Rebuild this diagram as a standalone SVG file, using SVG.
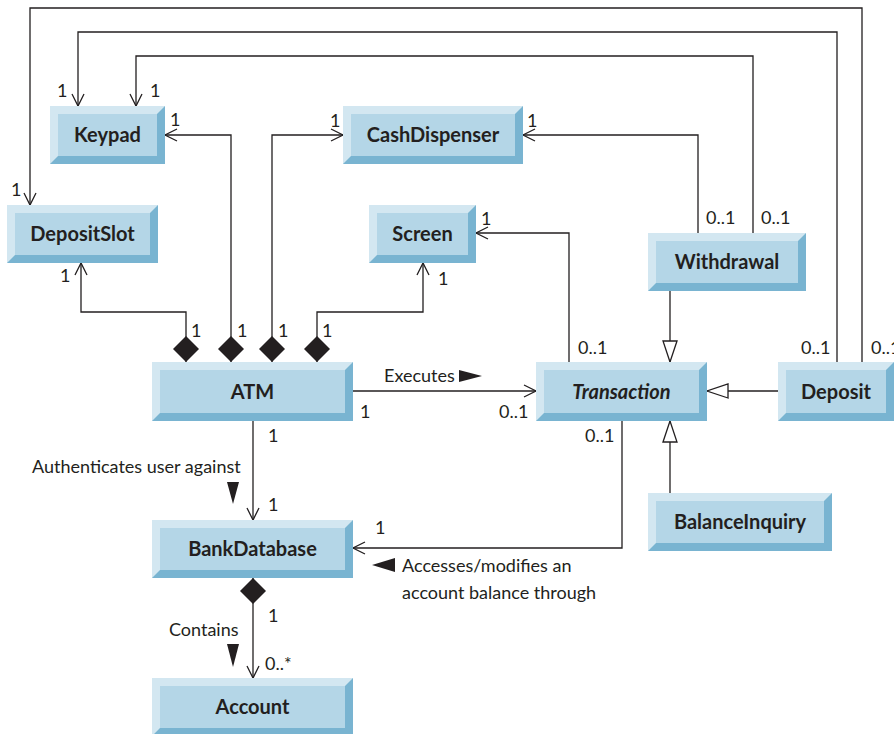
<svg xmlns="http://www.w3.org/2000/svg" width="894" height="734" viewBox="0 0 894 734">
<style>
.bd{fill:#79b4d1}
.lt{fill:#d3e7f1}
.fc{fill:#b4d6e7}
.n{font-family:Lato,"Open Sans","Liberation Sans",sans-serif;font-weight:bold;font-size:20px;fill:#231f20;text-anchor:middle}
.m{font-family:Lato,"Open Sans","Liberation Sans",sans-serif;font-size:18px;fill:#231f20}
.c{fill:none;stroke:#231f20;stroke-width:1.3}
.tri{fill:#231f20}
</style>
<defs>
<marker id="open" markerWidth="15" markerHeight="15" refX="13" refY="7" orient="auto" markerUnits="userSpaceOnUse"><path d="M1,1 L13,7 L1,13" fill="none" stroke="#231f20" stroke-width="1.3"/></marker>
<marker id="gen" markerWidth="24" markerHeight="18" refX="22" refY="8" orient="auto" markerUnits="userSpaceOnUse"><path d="M1,1 L22,8 L1,15 Z" fill="#fff" stroke="#231f20" stroke-width="1.3"/></marker>
<marker id="dia" markerWidth="27" markerHeight="27" refX="0" refY="13" orient="auto" markerUnits="userSpaceOnUse"><path d="M0,13 L13,0 L26,13 L13,26 Z" fill="#231f20"/></marker>
</defs>
<rect width="894" height="734" fill="#fff"/>

<g id="connectors">
<path class="c" d="M862,362 V8 H30 V205" marker-end="url(#open)"/>
<path class="c" d="M837,362 V32 H78 V106" marker-end="url(#open)"/>
<path class="c" d="M753,233 V56 H136 V106" marker-end="url(#open)"/>
<path class="c" d="M698,233 V135 H523" marker-end="url(#open)"/>
<path class="c" d="M231,362 V135 H165" marker-start="url(#dia)" marker-end="url(#open)"/>
<path class="c" d="M272,362 V135 H343" marker-start="url(#dia)" marker-end="url(#open)"/>
<path class="c" d="M186,362 V312 H81 V263" marker-start="url(#dia)" marker-end="url(#open)"/>
<path class="c" d="M317,362 V312 H423 V263" marker-start="url(#dia)" marker-end="url(#open)"/>
<path class="c" d="M569,362 V233 H476" marker-end="url(#open)"/>
<path class="c" d="M353,391 H536" marker-end="url(#open)"/>
<path class="c" d="M670,291 V362" marker-end="url(#gen)"/>
<path class="c" d="M778,391 H707" marker-end="url(#gen)"/>
<path class="c" d="M670,493 V421" marker-end="url(#gen)"/>
<path class="c" d="M253,421 V520" marker-end="url(#open)"/>
<path class="c" d="M622,421 V548 H353" marker-end="url(#open)"/>
<path class="c" d="M253,578 V678" marker-start="url(#dia)" marker-end="url(#open)"/>
</g>

<g id="keypad">
<rect class="bd" x="50" y="106" width="115" height="58"/>
<polygon class="lt" points="50,106 165,106 157,114 58,114 58,156 50,164"/>
<rect class="fc" x="58" y="114" width="99" height="42"/>
<text class="n" x="107.5" y="142">Keypad</text>
</g>
<g id="depositslot">
<rect class="bd" x="7" y="205" width="151" height="58"/>
<polygon class="lt" points="7,205 158,205 150,213 15,213 15,255 7,263"/>
<rect class="fc" x="15" y="213" width="135" height="42"/>
<text class="n" x="82.5" y="241">DepositSlot</text>
</g>
<g id="cashdispenser">
<rect class="bd" x="343" y="106" width="180" height="58"/>
<polygon class="lt" points="343,106 523,106 515,114 351,114 351,156 343,164"/>
<rect class="fc" x="351" y="114" width="164" height="42"/>
<text class="n" x="433" y="142">CashDispenser</text>
</g>
<g id="screen">
<rect class="bd" x="369" y="205" width="107" height="58"/>
<polygon class="lt" points="369,205 476,205 468,213 377,213 377,255 369,263"/>
<rect class="fc" x="377" y="213" width="91" height="42"/>
<text class="n" x="422.5" y="241">Screen</text>
</g>
<g id="withdrawal">
<rect class="bd" x="648" y="233" width="158" height="58"/>
<polygon class="lt" points="648,233 806,233 798,241 656,241 656,283 648,291"/>
<rect class="fc" x="656" y="241" width="142" height="42"/>
<text class="n" x="727" y="269">Withdrawal</text>
</g>
<g id="atm">
<rect class="bd" x="152" y="362" width="201" height="59"/>
<polygon class="lt" points="152,362 353,362 345,370 160,370 160,413 152,421"/>
<rect class="fc" x="160" y="370" width="185" height="43"/>
<text class="n" x="252.5" y="399">ATM</text>
</g>
<g id="transaction">
<rect class="bd" x="536" y="362" width="171" height="59"/>
<polygon class="lt" points="536,362 707,362 699,370 544,370 544,413 536,421"/>
<rect class="fc" x="544" y="370" width="155" height="43"/>
<text class="n" x="621.5" y="399" font-style="italic">Transaction</text>
</g>
<g id="deposit">
<rect class="bd" x="778" y="362" width="116" height="59"/>
<polygon class="lt" points="778,362 894,362 886,370 786,370 786,413 778,421"/>
<rect class="fc" x="786" y="370" width="100" height="43"/>
<text class="n" x="836" y="399">Deposit</text>
</g>
<g id="balanceinquiry">
<rect class="bd" x="648" y="493" width="184" height="58"/>
<polygon class="lt" points="648,493 832,493 824,501 656,501 656,543 648,551"/>
<rect class="fc" x="656" y="501" width="168" height="42"/>
<text class="n" x="740" y="529">BalanceInquiry</text>
</g>
<g id="bankdatabase">
<rect class="bd" x="152" y="520" width="201" height="58"/>
<polygon class="lt" points="152,520 353,520 345,528 160,528 160,570 152,578"/>
<rect class="fc" x="160" y="528" width="185" height="42"/>
<text class="n" x="252.5" y="556">BankDatabase</text>
</g>
<g id="account">
<rect class="bd" x="152" y="678" width="201" height="58"/>
<polygon class="lt" points="152,678 353,678 345,686 160,686 160,728 152,736"/>
<rect class="fc" x="160" y="686" width="185" height="42"/>
<text class="n" x="252.5" y="714">Account</text>
</g>

<g id="labels">
<text class="m" x="57" y="97">1</text>
<text class="m" x="150" y="97">1</text>
<text class="m" x="170" y="126">1</text>
<text class="m" x="11" y="196">1</text>
<text class="m" x="60" y="282">1</text>
<text class="m" x="330" y="127">1</text>
<text class="m" x="527" y="127">1</text>
<text class="m" x="481" y="225">1</text>
<text class="m" x="438" y="285">1</text>
<text class="m" x="706" y="224">0..1</text>
<text class="m" x="761" y="224">0..1</text>
<text class="m" x="191" y="337">1</text>
<text class="m" x="237" y="337">1</text>
<text class="m" x="278" y="337">1</text>
<text class="m" x="322" y="337">1</text>
<text class="m" x="578" y="354">0..1</text>
<text class="m" x="801" y="354">0..1</text>
<text class="m" x="871" y="354">0..1</text>
<text class="m" x="384" y="382">Executes</text>
<polygon class="tri" points="459,370 482,376 459,382"/>
<text class="m" x="360" y="418">1</text>
<text class="m" x="499" y="418">0..1</text>
<text class="m" x="268" y="442">1</text>
<text class="m" x="585" y="442">0..1</text>
<text class="m" x="32" y="473">Authenticates user against</text>
<polygon class="tri" points="227,482 239,482 233,504"/>
<text class="m" x="268" y="511">1</text>
<text class="m" x="375" y="534">1</text>
<polygon class="tri" points="395,558 395,572 372,565"/>
<text class="m" x="402" y="572">Accesses/modifies an</text>
<text class="m" x="402" y="599">account balance through</text>
<text class="m" x="268" y="622">1</text>
<text class="m" x="169" y="636">Contains</text>
<polygon class="tri" points="227,644 239,644 233,667"/>
<text class="m" x="265" y="670">0..*</text>
</g>
</svg>
